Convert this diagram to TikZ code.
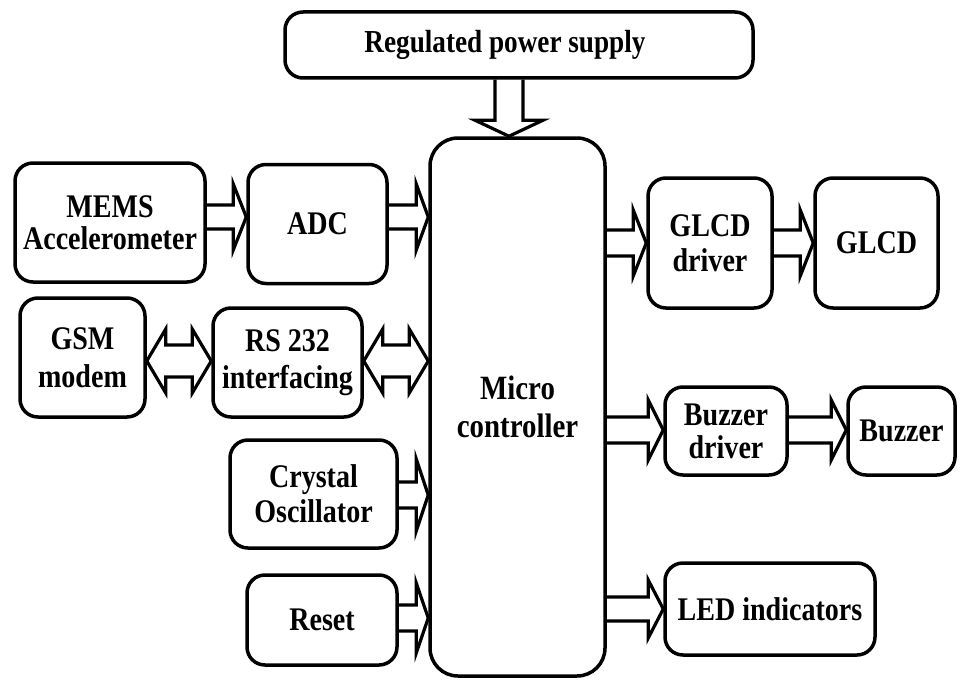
\documentclass[tikz,border=0pt]{standalone}
\usepackage{fontspec}
\setmainfont{Liberation Serif}[FakeStretch=0.85]
\usetikzlibrary{calc}
\pgfdeclarelayer{bg}
\pgfsetlayers{bg,main}
% right block arrow: from, to, yc, shaft half, head half, head length
\newcommand\rarr[6]{%
\filldraw[arr] (#1.east |- 0,#3-#4) -- ($(#2.west |- 0,#3-#4)+(-#6,0)$) -- ($(#2.west |- 0,#3-#5)+(-#6,0)$) -- (#2.west |- 0,#3) -- ($(#2.west |- 0,#3+#5)+(-#6,0)$) -- ($(#2.west |- 0,#3+#4)+(-#6,0)$) -- (#1.east |- 0,#3+#4);}
% double block arrow
\newcommand\barr[6]{%
\filldraw[arr] (#1.east |- 0,#3) -- ($(#1.east |- 0,#3-#5)+(#6,0)$) -- ($(#1.east |- 0,#3-#4)+(#6,0)$) -- ($(#2.west |- 0,#3-#4)+(-#6,0)$) -- ($(#2.west |- 0,#3-#5)+(-#6,0)$) -- (#2.west |- 0,#3) -- ($(#2.west |- 0,#3+#5)+(-#6,0)$) -- ($(#2.west |- 0,#3+#4)+(-#6,0)$) -- ($(#1.east |- 0,#3+#4)+(#6,0)$) -- ($(#1.east |- 0,#3+#5)+(#6,0)$) -- cycle;}
% down block arrow
\newcommand\darr[6]{%
\filldraw[arr] (#1.south -| #3-#4,0) -- ($(#2.north -| #3-#4,0)+(0,-#6)$) -- ($(#2.north -| #3-#5,0)+(0,-#6)$) -- (#2.north -| #3,0) -- ($(#2.north -| #3+#5,0)+(0,-#6)$) -- ($(#2.north -| #3+#4,0)+(0,-#6)$) -- (#1.south -| #3+#4,0);}
\begin{document}
\begin{tikzpicture}[x=1pt,y=-1pt,
  box/.style={draw, line width=3.5pt, rounded corners=18pt, align=center,
    font=\bfseries\fontsize{33}{35}\selectfont, inner sep=0pt},
  arr/.style={draw, fill=white, line width=3.2pt, line join=miter}]
\useasboundingbox (0,0) rectangle (960,682);
\node[box, minimum width=468pt, minimum height=66pt, font=\bfseries\fontsize{32}{35}\selectfont] (ps) at (519,45) {Regulated power supply\hspace{28pt}};
\node[box, rounded corners=28pt, minimum width=175pt, minimum height=538pt, font=\bfseries\fontsize{34}{38}\selectfont] (mc) at (517.5,407) {Micro\\controller};
\node[box, minimum width=190pt, minimum height=119pt, font=\bfseries\fontsize{33}{32}\selectfont] (mems) at (110,222.5) {MEMS\\Accelerometer};
\node[box, minimum width=139pt, minimum height=119pt] (adc) at (317.5,224) {ADC};
\node[box, minimum width=125pt, minimum height=119pt, font=\bfseries\fontsize{33}{38}\selectfont] (gsm) at (82.5,357.5) {GSM\\modem};
\node[box, minimum width=149pt, minimum height=109pt, font=\bfseries\fontsize{33}{37}\selectfont] (rs) at (287.5,362.5) {RS 232\\interfacing};
\node[box, minimum width=167pt, minimum height=108pt] (xtal) at (313.5,494) {Crystal\\Oscillator};
\node[box, minimum width=150pt, minimum height=90pt] (reset) at (322,620) {Reset};
\node[box, minimum width=124pt, minimum height=130pt] (gd) at (710,243) {GLCD\\driver};
\node[box, minimum width=123pt, minimum height=130pt] (glcd) at (876.5,243) {GLCD};
\node[box, minimum width=122pt, minimum height=88pt, font=\bfseries\fontsize{33}{33}\selectfont] (bd) at (726,431) {Buzzer\\driver};
\node[box, minimum width=107pt, minimum height=88pt] (bz) at (901.5,431) {Buzzer};
\node[box, minimum width=210pt, minimum height=92pt] (led) at (770,609) {LED indicators};
\begin{pgfonlayer}{bg}
\darr{ps}{mc}{509}{14}{34}{16}
\rarr{mems}{adc}{217}{12}{33}{13}
\rarr{adc}{mc}{217}{12}{33}{12}
\barr{gsm}{rs}{361}{16}{32}{19}
\barr{rs}{mc}{361}{16}{32}{19}
\rarr{xtal}{mc}{495}{13}{36}{12}
\rarr{reset}{mc}{618}{13}{35}{12}
\rarr{mc}{gd}{243}{13}{33}{13}
\rarr{gd}{glcd}{243}{13}{33}{13}
\rarr{mc}{bd}{430}{13}{30}{15}
\rarr{bd}{bz}{430}{13}{30}{15}
\rarr{mc}{led}{609}{12}{29}{15}
\end{pgfonlayer}
\end{tikzpicture}
\end{document}
